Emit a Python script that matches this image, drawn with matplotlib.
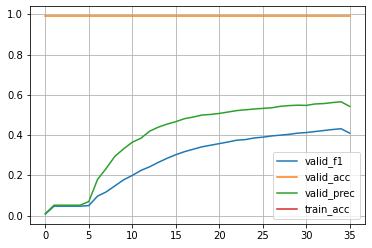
import numpy as np
import matplotlib
matplotlib.use("Agg")
import matplotlib.pyplot as plt

epochs = list(range(36))

valid_f1 = [0.008, 0.047, 0.047, 0.047, 0.047, 0.05, 0.097, 0.118, 0.148, 0.178, 0.2,
            0.225, 0.243, 0.265, 0.285, 0.303, 0.318, 0.33, 0.342, 0.35, 0.358,
            0.366, 0.375, 0.378, 0.386, 0.39, 0.396, 0.4, 0.404, 0.41, 0.413,
            0.418, 0.423, 0.428, 0.432, 0.41]
valid_acc = [0.993] * 36
valid_prec = [0.01, 0.052, 0.052, 0.052, 0.052, 0.07, 0.18, 0.235, 0.295, 0.332, 0.365,
              0.385, 0.42, 0.44, 0.455, 0.467, 0.482, 0.49, 0.5, 0.503, 0.508,
              0.515, 0.522, 0.526, 0.53, 0.533, 0.536, 0.543, 0.547, 0.549, 0.548,
              0.555, 0.557, 0.562, 0.566, 0.543]
train_acc = [np.nan] * 36

plt.figure(figsize=(372 / 72, 248 / 72), dpi=72)
plt.subplots_adjust(left=0.081, right=0.981, bottom=0.097, top=0.976)
plt.plot(epochs, valid_f1, label="valid_f1")
plt.plot(epochs, valid_acc, label="valid_acc")
plt.plot(epochs, valid_prec, label="valid_prec")
plt.plot(epochs, train_acc, label="train_acc")
plt.grid(True)
plt.legend(loc="lower right")
plt.savefig("out.png", dpi=72)
